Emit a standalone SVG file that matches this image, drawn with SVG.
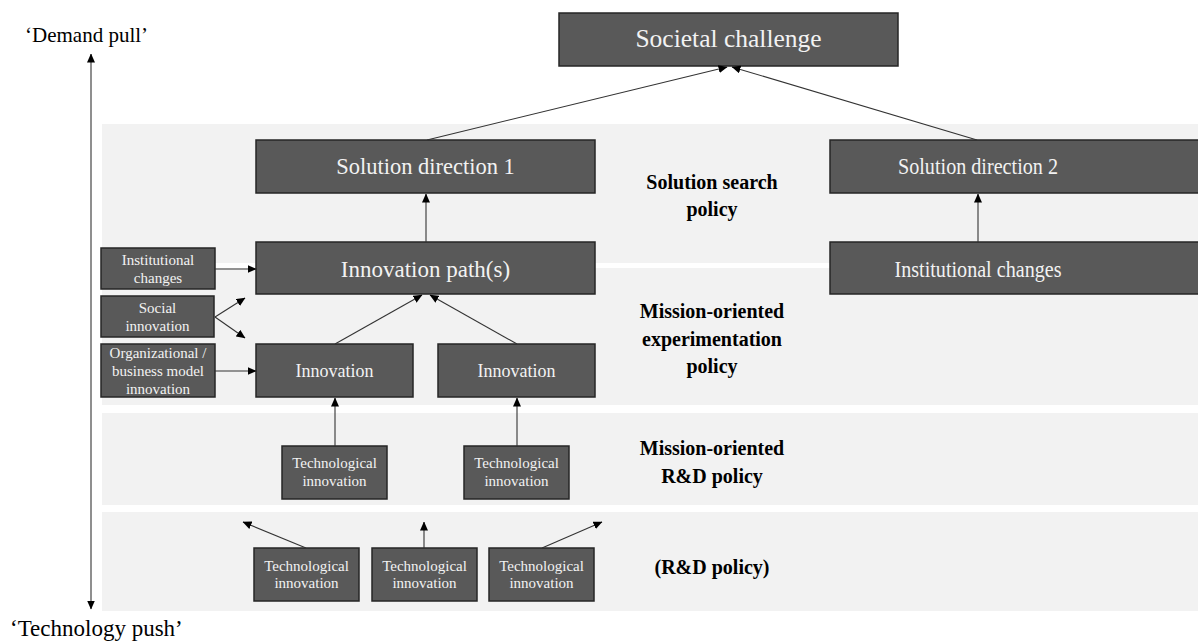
<svg xmlns="http://www.w3.org/2000/svg" width="1198" height="644" viewBox="0 0 1198 644">
<defs>
<marker id="ah" markerWidth="9" markerHeight="8" refX="8.5" refY="4" orient="auto" markerUnits="userSpaceOnUse">
<path d="M0,0 L9,4 L0,8 Z" fill="#000"/>
</marker>
<style>
.band{fill:#f2f2f2}
.box rect{fill:#595959;stroke:#262626;stroke-width:1.5}
.box text{fill:#f2f2f2;font-family:"Liberation Serif","Times New Roman",serif;text-anchor:middle}
.lbl{font-family:"Liberation Serif","Times New Roman",serif;font-weight:bold;font-size:20px;fill:#000;text-anchor:middle}
.axis{font-family:"Liberation Serif","Times New Roman",serif;font-size:21px;fill:#000}
.s{font-size:15px}
.m{font-size:18px}
.l{font-size:22.5px}
#connectors line{stroke:#333;stroke-width:1.1;fill:none;marker-end:url(#ah)}
</style>
</defs>
<rect width="1198" height="644" fill="#fff"/>
<g id="bands">
<rect class="band" x="102" y="124" width="1096" height="139"/>
<rect class="band" x="102" y="268" width="1096" height="137"/>
<rect class="band" x="102" y="413" width="1096" height="92"/>
<rect class="band" x="102" y="512" width="1096" height="99"/>
</g>
<g id="labels">
<text class="axis" x="25" y="42">‘Demand pull’</text>
<text class="axis" x="10" y="636" style="font-size:23px">‘Technology push’</text>
<text class="lbl" x="712" y="189">Solution search</text>
<text class="lbl" x="712" y="216">policy</text>
<text class="lbl" x="712" y="318">Mission-oriented</text>
<text class="lbl" x="712" y="346">experimentation</text>
<text class="lbl" x="712" y="373">policy</text>
<text class="lbl" x="712" y="455">Mission-oriented</text>
<text class="lbl" x="712" y="483">R&amp;D policy</text>
<text class="lbl" x="712" y="574">(R&amp;D policy)</text>
</g>
<g id="n-societal" class="box"><rect x="559" y="13" width="339" height="53"/><text x="728.5" y="47" style="font-size:25.5px">Societal challenge</text></g>
<g id="n-sd1" class="box"><rect x="256" y="140" width="339" height="53"/><text class="l" x="425.5" y="174">Solution direction 1</text></g>
<g id="n-sd2" class="box"><rect x="830" y="140" width="400" height="53"/><text class="l" x="978" y="174" textLength="160" lengthAdjust="spacingAndGlyphs">Solution direction 2</text></g>
<g id="n-path" class="box"><rect x="256" y="242" width="339" height="52"/><text x="425.5" y="277" style="font-size:23px">Innovation path(s)</text></g>
<g id="n-inst2" class="box"><rect x="830" y="242" width="400" height="52"/><text class="l" x="978" y="277" textLength="167" lengthAdjust="spacingAndGlyphs">Institutional changes</text></g>
<g id="n-inst1" class="box"><rect x="101" y="248" width="114" height="41"/><text class="s" x="158" y="265">Institutional</text><text class="s" x="158" y="283">changes</text></g>
<g id="n-social" class="box"><rect x="101" y="296" width="113" height="41"/><text class="s" x="157.5" y="313">Social</text><text class="s" x="157.5" y="331">innovation</text></g>
<g id="n-org" class="box"><rect x="101" y="344" width="114" height="53"/><text class="s" x="158" y="358">Organizational /</text><text class="s" x="158" y="376">business model</text><text class="s" x="158" y="394">innovation</text></g>
<g id="n-inn1" class="box"><rect x="256" y="344" width="157" height="53"/><text class="m" x="334.5" y="377">Innovation</text></g>
<g id="n-inn2" class="box"><rect x="438" y="344" width="157" height="53"/><text class="m" x="516.5" y="377">Innovation</text></g>
<g id="n-tech1" class="box"><rect x="282" y="446" width="105" height="53"/><text class="s" x="334.5" y="468">Technological</text><text class="s" x="334.5" y="486">innovation</text></g>
<g id="n-tech2" class="box"><rect x="464" y="446" width="105" height="53"/><text class="s" x="516.5" y="468">Technological</text><text class="s" x="516.5" y="486">innovation</text></g>
<g id="n-tech3" class="box"><rect x="254" y="548" width="105" height="53"/><text class="s" x="306.5" y="571">Technological</text><text class="s" x="306.5" y="588">innovation</text></g>
<g id="n-tech4" class="box"><rect x="372" y="548" width="105" height="53"/><text class="s" x="424.5" y="571">Technological</text><text class="s" x="424.5" y="588">innovation</text></g>
<g id="n-tech5" class="box"><rect x="489" y="548" width="105" height="53"/><text class="s" x="541.5" y="571">Technological</text><text class="s" x="541.5" y="588">innovation</text></g>
<g id="connectors">
<line x1="91" y1="330" x2="91" y2="54"/>
<line x1="91" y1="330" x2="91" y2="609"/>
<line x1="427" y1="140" x2="727" y2="67"/>
<line x1="977" y1="140" x2="732" y2="67"/>
<line x1="426" y1="242" x2="426" y2="194"/>
<line x1="978" y1="242" x2="978" y2="194"/>
<line x1="215" y1="269" x2="256" y2="269"/>
<line x1="215" y1="317" x2="245" y2="298"/>
<line x1="215" y1="317" x2="245" y2="338"/>
<line x1="215" y1="371" x2="256" y2="371"/>
<line x1="335" y1="344" x2="422" y2="295"/>
<line x1="517" y1="344" x2="430" y2="295"/>
<line x1="335" y1="446" x2="335" y2="398"/>
<line x1="517" y1="446" x2="517" y2="398"/>
<line x1="306" y1="548" x2="243" y2="522"/>
<line x1="424" y1="548" x2="424" y2="522"/>
<line x1="542" y1="548" x2="602" y2="522"/>
</g>
</svg>
